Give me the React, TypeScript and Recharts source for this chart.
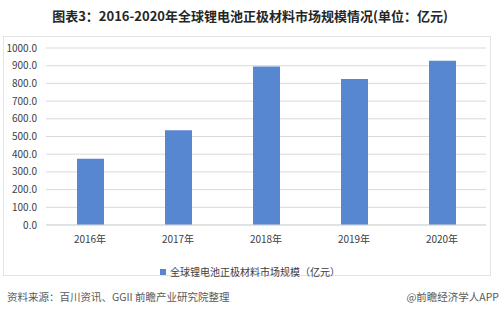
import React from "react";
import { BarChart, Bar, XAxis, YAxis, CartesianGrid } from "recharts";

const years = ["2016年", "2017年", "2018年", "2019年", "2020年"];
const marketSize = [375, 535, 895, 825, 928];
const yTicks = [0, 100, 200, 300, 400, 500, 600, 700, 800, 900, 1000];
const seriesName = "全球锂电池正极材料市场规模（亿元）";
const titleText = "图表3：2016-2020年全球锂电池正极材料市场规模情况(单位：亿元)";
const sourceText = "资料来源：百川资讯、GGII 前瞻产业研究院整理";
const brandText = "@前瞻经济学人APP";

const data = years.map((y, i) => ({ year: y, value: marketSize[i] }));

const FONT = '"Noto Sans CJK SC", "Noto Sans", sans-serif';
const BAR_COLOR = "#5787d0";

export default function App() {
  return (
    <div
      style={{
        position: "absolute",
        left: 0,
        top: 0,
        width: 500,
        height: 314,
        background: "#ffffff",
        fontFamily: FONT,
        overflow: "hidden",
      }}
    >
      <div
        style={{
          position: "absolute",
          left: 0,
          top: 7,
          width: 500,
          textAlign: "center",
          fontSize: 13,
          fontWeight: 700,
          color: "#262626",
          lineHeight: "18px",
        }}
      >
        {titleText}
      </div>
      <div
        style={{
          position: "absolute",
          left: 3,
          top: 36,
          width: 488,
          height: 240,
          border: "1px solid #e3e3e3",
          boxSizing: "border-box",
        }}
      />
      <div style={{ position: "absolute", left: 0, top: 0 }}>
        <BarChart
          width={500}
          height={314}
          data={data}
          margin={{ top: 48, right: 14, bottom: 59, left: 0 }}
        >
          <CartesianGrid vertical={false} stroke="#d9d9d9" />
          <XAxis
            dataKey="year"
            height={30}
            axisLine={{ stroke: "#d9d9d9" }}
            tickLine={false}
            tickSize={0}
            tickMargin={11}
            tick={{ fontSize: 10, fill: "#404040", fontFamily: FONT }}
          />
          <YAxis
            domain={[0, 1000]}
            ticks={yTicks}
            width={46}
            axisLine={false}
            tickLine={false}
            tickSize={0}
            tickMargin={9}
            interval={0}
            tickFormatter={(v: number) => v.toFixed(1)}
            tick={{ fontSize: 10, fill: "#404040", fontFamily: FONT }}
          />
          <Bar
            dataKey="value"
            name={seriesName}
            fill={BAR_COLOR}
            barSize={27}
            isAnimationActive={false}
          />
        </BarChart>
      </div>
      <div
        style={{
          position: "absolute",
          left: 0,
          top: 264,
          width: 500,
          display: "flex",
          justifyContent: "center",
          alignItems: "center",
          fontSize: 10,
          color: "#404040",
          lineHeight: "15px",
        }}
      >
        <span
          style={{
            display: "inline-block",
            width: 6,
            height: 6,
            background: BAR_COLOR,
            marginRight: 4,
          }}
        />
        <span>{seriesName}</span>
      </div>
      <div
        style={{
          position: "absolute",
          left: 7,
          top: 289,
          fontSize: 10.5,
          color: "#595959",
          lineHeight: "15px",
          whiteSpace: "nowrap",
        }}
      >
        {sourceText}
      </div>
      <div
        style={{
          position: "absolute",
          right: 1,
          top: 289,
          fontSize: 10.5,
          color: "#595959",
          lineHeight: "15px",
          whiteSpace: "nowrap",
        }}
      >
        {brandText}
      </div>
    </div>
  );
}
